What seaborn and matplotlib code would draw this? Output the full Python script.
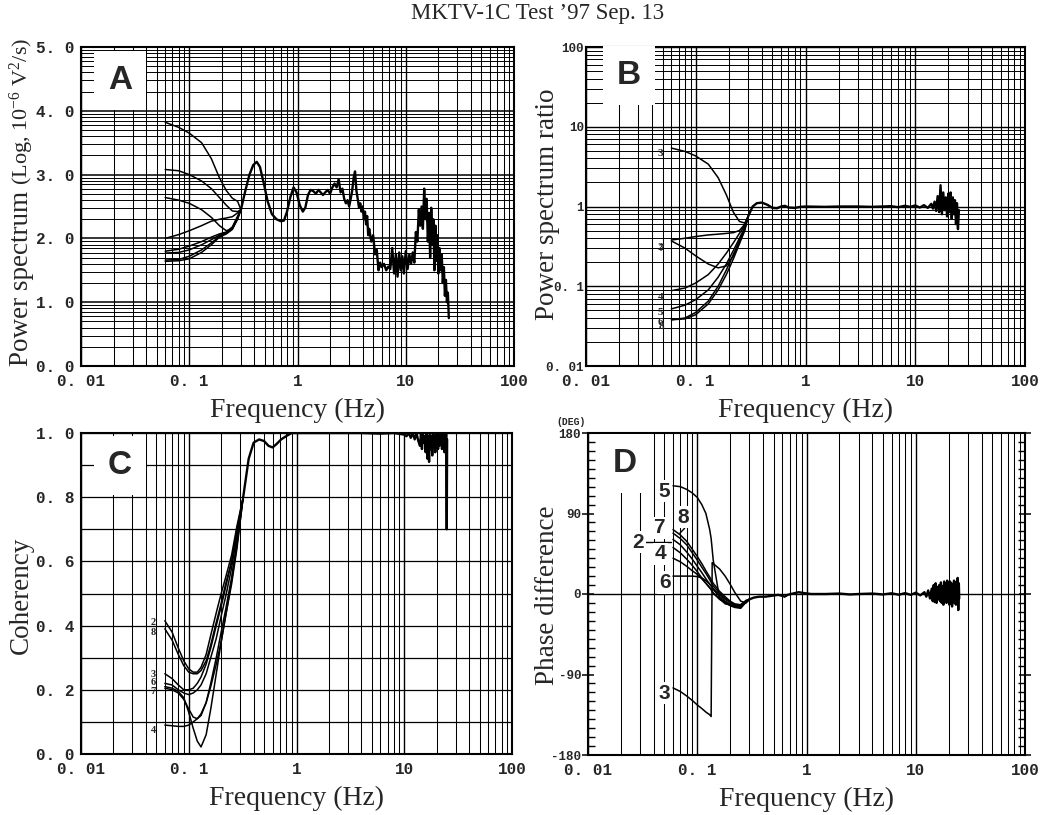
import numpy as np
import matplotlib
matplotlib.use("Agg")
import matplotlib.pyplot as plt
import matplotlib.transforms as mtransforms
import seaborn as sns
from matplotlib.ticker import LogLocator, NullFormatter, FixedLocator

sns.set_style("white")
plt.rcParams["font.family"] = ["Liberation Serif", "DejaVu Serif"]
plt.rcParams["mathtext.fontset"] = "custom"
plt.rcParams["mathtext.rm"] = "Liberation Serif"
plt.rcParams["mathtext.default"] = "regular"
plt.rcParams["ytick.left"] = True
plt.rcParams["ytick.minor.left"] = True

# ---------------- data ----------------
X_TICKS = [0.01, 0.1, 1, 10, 100]
X_TICK_LABELS = ["0. 01", "0. 1", "1", "10", "100"]

# Panel A: power spectra (log units)
A_LOW_F = [0.06, 0.08, 0.10, 0.13, 0.16, 0.19, 0.22, 0.25, 0.28]
A_CURVE_1 = [3.82, 3.74, 3.65, 3.50, 3.25, 2.95, 2.75, 2.63, 2.58]
A_CURVE_2 = [3.08, 3.06, 3.00, 2.90, 2.78, 2.64, 2.52, 2.43, 2.42]
A_CURVE_3 = [2.64, 2.60, 2.55, 2.45, 2.33, 2.20, 2.12, 2.15, 2.30]
A_CURVE_4 = [2.00, 2.06, 2.12, 2.20, 2.27, 2.30, 2.32, 2.34, 2.40]
A_CURVE_5 = [1.80, 1.83, 1.88, 1.95, 2.02, 2.07, 2.10, 2.18, 2.35]
A_CURVE_6 = [1.77, 1.78, 1.82, 1.90, 1.98, 2.05, 2.09, 2.16, 2.33]
A_CURVE_7 = [1.66, 1.67, 1.72, 1.82, 1.93, 2.03, 2.08, 2.15, 2.32]
A_CURVE_8 = [1.64, 1.65, 1.68, 1.78, 1.90, 2.02, 2.07, 2.14, 2.32]
A_TRUNK_F = [0.30, 0.33, 0.36, 0.39, 0.42, 0.45, 0.49, 0.53, 0.58, 0.64,
             0.70, 0.75, 0.80, 0.86, 0.92, 0.98, 1.05, 1.12, 1.18, 1.25,
             1.32, 1.40, 1.48, 1.56, 1.64, 1.72, 1.80, 1.90, 2.00, 2.10,
             2.20, 2.30, 2.40, 2.50, 2.60, 2.70, 2.80, 2.90, 3.00, 3.10,
             3.20, 3.30, 3.40, 3.50, 3.60, 3.70, 3.80, 3.90, 4.00, 4.10,
             4.20, 4.30, 4.40, 4.50, 4.60, 4.80, 5.00, 5.20, 5.40, 5.60,
             5.80, 6.00, 6.30, 6.60, 6.90, 7.20, 7.50, 7.80, 8.10, 8.40,
             8.70, 9.00, 9.30, 9.60, 10.0, 10.4, 10.8, 11.2, 11.6, 12.0,
             12.4, 12.8, 13.2, 13.6, 14.0, 14.4, 14.8, 15.2, 15.6, 16.0,
             16.4, 16.8, 17.2, 17.6, 18.0, 18.4, 18.8, 19.2, 19.6, 20.0,
             20.5, 21.0, 21.5, 22.0, 22.5, 23.0, 23.5, 24.0, 24.5, 25.0]
A_TRUNK_V = [2.45, 2.75, 3.00, 3.15, 3.20, 3.12, 2.85, 2.58, 2.38, 2.30,
             2.27, 2.28, 2.42, 2.65, 2.80, 2.72, 2.52, 2.42, 2.48, 2.68,
             2.76, 2.74, 2.70, 2.76, 2.72, 2.68, 2.72, 2.76, 2.70, 2.80,
             2.86, 2.80, 2.93, 2.72, 2.78, 2.62, 2.55, 2.60, 2.50, 2.62,
             2.75, 2.95, 3.05, 2.75, 2.62, 2.48, 2.55, 2.42, 2.50, 2.30,
             2.42, 2.22, 2.35, 2.05, 2.15, 1.95, 2.05, 1.75, 1.82, 1.50,
             1.62, 1.55, 1.60, 1.50, 1.56, 1.52, 1.85, 1.45, 1.75, 1.40,
             1.78, 1.50, 1.72, 1.45, 1.80, 1.52, 1.75, 1.60, 1.78, 1.62,
             2.10, 1.95, 2.45, 2.20, 2.50, 2.15, 2.78, 2.30, 2.62, 1.95,
             2.40, 1.70, 2.48, 1.90, 2.30, 1.50, 2.20, 1.65, 2.05, 1.45,
             1.85, 1.50, 1.75, 1.30, 1.55, 1.10, 1.35, 1.00, 1.15, 0.75]

# Panel B: power spectrum ratio
B_LOW_F = [0.06, 0.08, 0.10, 0.13, 0.16, 0.19, 0.22, 0.25, 0.28]
B_CURVE_3 = [5.4, 4.9, 4.3, 3.4, 2.3, 1.4, 0.85, 0.65, 0.62]
B_CURVE_2 = [0.38, 0.40, 0.42, 0.44, 0.45, 0.46, 0.47, 0.50, 0.60]
B_CURVE_7 = [0.37, 0.30, 0.24, 0.19, 0.17, 0.18, 0.24, 0.36, 0.55]
B_CURVE_4 = [0.088, 0.095, 0.11, 0.14, 0.19, 0.26, 0.35, 0.46, 0.58]
B_CURVE_5 = [0.052, 0.058, 0.068, 0.09, 0.13, 0.19, 0.28, 0.40, 0.55]
B_CURVE_6 = [0.038, 0.039, 0.044, 0.06, 0.09, 0.14, 0.22, 0.34, 0.50]
B_CURVE_8 = [0.038, 0.040, 0.047, 0.065, 0.10, 0.16, 0.25, 0.37, 0.52]
B_TRUNK_F = [0.30, 0.33, 0.36, 0.40, 0.45, 0.50, 0.55, 0.60, 0.65, 0.70,
             0.80, 0.90, 1.0, 1.5, 2.0, 3.0, 4.0, 5.0, 6.0, 7.0,
             8.0, 9.0, 10.0, 11.0, 12.0, 13.0, 14.0, 14.5, 15.0, 15.5,
             16.0, 16.5, 17.0, 17.5, 18.0, 18.5, 19.0, 19.5, 20.0, 20.5,
             21.0, 21.5, 22.0, 22.5, 23.0, 23.5, 24.0, 24.5, 25.0]
B_TRUNK_V = [0.75, 1.00, 1.10, 1.12, 1.05, 0.96, 0.95, 1.00, 1.02, 0.97,
             0.96, 0.99, 1.00, 0.99, 1.00, 1.00, 0.99, 1.00, 1.01, 0.98,
             1.02, 0.99, 1.03, 0.97, 1.04, 0.96, 1.08, 0.94, 1.15, 0.88,
             1.35, 0.85, 1.85, 0.80, 1.50, 0.90, 1.30, 0.75, 1.45, 0.85,
             1.50, 0.70, 1.30, 0.80, 1.20, 0.60, 1.10, 0.52, 0.90]

# Panel C: coherency
C_LOW_F = [0.06, 0.07, 0.08, 0.09, 0.10, 0.11, 0.12, 0.13, 0.145, 0.16,
           0.18, 0.20, 0.22, 0.25, 0.28]
C_CURVE_2 = [0.415, 0.38, 0.33, 0.29, 0.265, 0.255, 0.255, 0.27, 0.31, 0.37, 0.44, 0.50, 0.55, 0.62, 0.71]
C_CURVE_8 = [0.39, 0.355, 0.31, 0.275, 0.255, 0.25, 0.25, 0.26, 0.29, 0.34, 0.41, 0.47, 0.53, 0.60, 0.69]
C_CURVE_3 = [0.25, 0.235, 0.215, 0.20, 0.20, 0.205, 0.22, 0.24, 0.28, 0.33, 0.40, 0.46, 0.52, 0.60, 0.70]
C_CURVE_6 = [0.22, 0.215, 0.20, 0.19, 0.185, 0.19, 0.20, 0.215, 0.25, 0.30, 0.36, 0.43, 0.49, 0.58, 0.68]
C_CURVE_7 = [0.205, 0.20, 0.19, 0.17, 0.14, 0.115, 0.11, 0.12, 0.16, 0.22, 0.30, 0.38, 0.45, 0.55, 0.66]
C_CURVE_5 = [0.21, 0.205, 0.195, 0.175, 0.13, 0.08, 0.04, 0.022, 0.06, 0.14, 0.25, 0.35, 0.43, 0.54, 0.65]
C_CURVE_4 = [0.09, 0.088, 0.086, 0.086, 0.09, 0.10, 0.11, 0.125, 0.16, 0.21, 0.28, 0.35, 0.43, 0.53, 0.64]
C_TRUNK_F = [0.32, 0.36, 0.40, 0.45, 0.50, 0.55, 0.60, 0.65, 0.72, 0.80,
             0.90, 1.0, 2.0, 4.0, 6.0, 8.0, 10.0, 10.5, 11.0, 11.5,
             12.0, 12.5, 13.0, 13.5, 14.0, 14.3, 14.6, 14.9, 15.2, 15.5,
             15.8, 16.1, 16.4, 16.7, 17.0, 17.3, 17.6, 17.9, 18.2, 18.5,
             18.8, 19.1, 19.4, 19.7, 20.0, 20.3, 20.6, 20.9, 21.2, 21.5,
             21.8, 22.1, 22.4, 22.7, 23.0, 23.3, 23.6, 23.9, 24.2, 24.5,
             24.8, 25.0]
C_TRUNK_V = [0.80, 0.92, 0.97, 0.98, 0.975, 0.96, 0.955, 0.965, 0.98, 0.99,
             1.0, 1.0, 1.0, 1.0, 0.998, 1.0, 0.995, 0.99, 1.0, 0.985,
             1.0, 0.98, 1.0, 0.975, 0.96, 1.0, 0.95, 1.0, 0.97, 0.99,
             0.94, 1.0, 0.92, 0.99, 0.91, 1.0, 0.95, 0.99, 0.93, 1.0,
             0.96, 0.99, 0.94, 1.0, 0.96, 0.99, 0.95, 1.0, 0.96, 0.99,
             0.97, 1.0, 0.95, 0.99, 0.96, 1.0, 0.94, 0.99, 0.95, 1.0,
             0.70, 0.98]

# Panel D: phase difference (deg)
D_LOW_F = [0.06, 0.07, 0.08, 0.09, 0.10, 0.11, 0.12, 0.13, 0.134, 0.137,
           0.14, 0.16, 0.18, 0.20, 0.22, 0.25, 0.28]
D_CURVE_5 = [121, 120, 117, 113, 108, 100, 90, 72, 62, 50, 38, -5, -11, -12, -13, -12, -7]
D_CURVE_8 = [72, 66, 59, 50, 42, 34, 26, 19, 16, 14, 12, 3, -3, -8, -11, -12, -8]
D_CURVE_7 = [68, 62, 55, 46, 38, 30, 23, 16, 13, 11, 9, 1, -5, -9, -12, -13, -8]
D_CURVE_2 = [61, 55, 47, 39, 31, 24, 17, 11, 9, 7, 5, -3, -8, -11, -14, -15, -9]
D_CURVE_4 = [52, 46, 39, 32, 25, 18, 12, 7, 5, 3, 1, -6, -10, -13, -15, -16, -9]
D_CURVE_1 = [40, 36, 31, 26, 22, 17, 12, 7, 5, 3, 1, -5, -9, -12, -14, -14, -9]
D_CURVE_6 = [20, 20, 20, 20, 19.5, 18, 15, 11, 9, 8, 6, -1, -6, -9, -12, -13, -9]
D_CURVE_3 = [-105, -109, -114, -119, -124, -128, -132, -135, -137, 35, 34, 28, 20, 11, 2, -8, -10]
D_TRUNK_F = [0.30, 0.33, 0.37, 0.42, 0.48, 0.55, 0.60, 0.63, 0.67, 0.72,
             0.78, 0.85, 0.95, 1.1, 1.5, 2.0, 2.5, 3.0, 4.0, 5.0,
             6.0, 7.0, 8.0, 9.0, 10.0, 11.0, 12.0, 12.5, 13.0, 13.5,
             14.0, 14.3, 14.6, 14.9, 15.2, 15.5, 15.8, 16.1, 16.4, 16.7,
             17.0, 17.3, 17.6, 17.9, 18.2, 18.5, 18.8, 19.1, 19.4, 19.7,
             20.0, 20.3, 20.6, 20.9, 21.2, 21.5, 21.8, 22.1, 22.4, 22.7,
             23.0, 23.3, 23.6, 23.9, 24.2, 24.5, 24.8, 25.0]
D_TRUNK_V = [-6, -4, -3, -3, -2, -1, -2, -3, -1, 0,
             1, 2, 1, 0, 0, 0.5, -0.5, 0, 0.5, -0.5,
             0.8, -0.8, 1, -1, 1.5, -1.5, 2, -3, 4, -5,
             6, -8, 10, -9, 12, -10, 8, -6, 10, -8,
             13, -10, 9, -12, 14, -8, 12, -10, 15, -9,
             11, -12, 14, -8, 12, -14, 10, -9, 15, -10,
             13, -12, 11, -8, 18, -18, 12, -5]
D_Y_TICKS = [-180, -90, 0, 90, 180]
D_Y_MINOR = [v for v in range(-170, 180, 10) if v % 90 != 0]

# ---------------- figure ----------------
W, H = 1058, 815
fig = plt.figure(figsize=(W / 100, H / 100), dpi=100)


def axes_px(l, t, r, b):
    return fig.add_axes([l / W, 1 - b / H, (r - l) / W, (b - t) / H])


axA = axes_px(81, 47, 514, 366)
axB = axes_px(586, 47, 1025, 366)
axC = axes_px(81, 433, 512, 754)
axD = axes_px(588, 433, 1025, 755)

MONO = "Liberation Mono"
X_LABEL_SHIFT = [10, 8, 2, 5, 2]   # small print offsets of the tick labels (px)


def draw_curves(ax, low_f, curves, trunk_f, trunk_v):
    for vals in curves:
        sns.lineplot(x=list(low_f) + [trunk_f[0]], y=list(vals) + [trunk_v[0]], ax=ax,
                     color="black", linewidth=1.1, sort=False, estimator=None,
                     legend=False, zorder=3)
    sns.lineplot(x=trunk_f, y=trunk_v, ax=ax, color="black", linewidth=1.7,
                 sort=False, estimator=None, legend=False, zorder=3)


def style_common(ax, bottom_px, label_baseline_px):
    ax.set_xscale("log")
    ax.set_xlim(0.01, 100)
    ax.xaxis.set_major_locator(FixedLocator(X_TICKS))
    ax.xaxis.set_minor_locator(LogLocator(base=10, subs=np.arange(2, 10), numticks=30))
    ax.xaxis.set_minor_formatter(NullFormatter())
    ax.set_xticks(X_TICKS)
    ax.set_xticklabels(X_TICK_LABELS, fontfamily=MONO, fontweight="bold", fontsize=11.5)
    for lab, dx in zip(ax.get_xticklabels(), X_LABEL_SHIFT):
        lab.set_transform(lab.get_transform() +
                          mtransforms.ScaledTranslation(dx / 100, 0, fig.dpi_scale_trans))
    ax.grid(True, which="major", axis="x", color="black", linewidth=1.0)
    ax.grid(True, which="minor", axis="x", color="black", linewidth=0.75)
    ax.set_axisbelow(True)
    ax.tick_params(axis="x", which="both", length=0, pad=5.5)
    for s in ax.spines.values():
        s.set_color("black")
        s.set_linewidth(1.5)
        s.set_visible(True)
    ax.set_xlabel("Frequency (Hz)", fontsize=20)
    pos = ax.get_position()
    ax.xaxis.set_label_coords(0.5, -(label_baseline_px - bottom_px) / (pos.height * H))
    ax.xaxis.label.set_va("baseline")


def panel_letter(ax, letter, x, y):
    ax.text(x, y, letter, transform=ax.transAxes, fontsize=24, fontweight="bold",
            family="Liberation Sans", ha="center", va="center", zorder=6,
            bbox=dict(boxstyle="square,pad=0.42", fc="white", ec="none"))


# ---- Panel A
draw_curves(axA, A_LOW_F, [A_CURVE_1, A_CURVE_2, A_CURVE_3, A_CURVE_4, A_CURVE_5,
                           A_CURVE_6, A_CURVE_7, A_CURVE_8], A_TRUNK_F, A_TRUNK_V)
style_common(axA, 366, 417)
axA.set_ylim(0, 5)
axA.set_yticks([0, 1, 2, 3, 4, 5])
axA.set_yticklabels(["0. 0", "1. 0", "2. 0", "3. 0", "4. 0", "5. 0"],
                    fontfamily=MONO, fontweight="bold", fontsize=11.5)
axA.set_yticks([k + np.log10(m) for k in range(5) for m in range(2, 10)], minor=True)
axA.grid(True, which="major", axis="y", color="black", linewidth=1.1)
axA.grid(True, which="minor", axis="y", color="black", linewidth=0.7)
axA.tick_params(axis="y", which="both", length=0, pad=5)
axA.set_ylabel("")
panel_letter(axA, "A", 0.09, 0.895)

# ---- Panel B
draw_curves(axB, B_LOW_F, [B_CURVE_3, B_CURVE_2, B_CURVE_7, B_CURVE_4, B_CURVE_5,
                           B_CURVE_6, B_CURVE_8], B_TRUNK_F, B_TRUNK_V)
style_common(axB, 366, 417)
axB.set_yscale("log")
axB.set_ylim(0.01, 100)
axB.yaxis.set_major_locator(FixedLocator([0.01, 0.1, 1, 10, 100]))
axB.yaxis.set_minor_locator(LogLocator(base=10, subs=np.arange(2, 10), numticks=30))
axB.yaxis.set_minor_formatter(NullFormatter())
axB.set_yticks([0.01, 0.1, 1, 10, 100])
axB.set_yticklabels(["0. 01", "0. 1", "1", "10", "100"], fontfamily=MONO,
                    fontweight="bold", fontsize=9)
axB.grid(True, which="major", axis="y", color="black", linewidth=1.0)
axB.grid(True, which="minor", axis="y", color="black", linewidth=0.7)
axB.tick_params(axis="y", which="both", length=0, pad=1.5)
axB.set_ylabel("Power spectrum ratio", fontsize=19.5)
axB.yaxis.set_label_coords(-(586 - 548) / 439, 1 - (204 - 47) / 319)
axB.yaxis.label.set_va("center")
panel_letter(axB, "B", 0.097, 0.91)
for txt, f, v in [("3", 0.048, 4.6), ("2", 0.048, 0.31), ("7", 0.0485, 0.30),
                  ("4", 0.048, 0.073), ("5", 0.048, 0.047), ("6", 0.048, 0.035),
                  ("8", 0.0485, 0.031)]:
    axB.text(f, v, txt, fontsize=8, fontweight="bold", ha="center", va="center", zorder=5)

# ---- Panel C
draw_curves(axC, C_LOW_F, [C_CURVE_2, C_CURVE_8, C_CURVE_3, C_CURVE_6, C_CURVE_7,
                           C_CURVE_5, C_CURVE_4], C_TRUNK_F, C_TRUNK_V)
style_common(axC, 754, 805)
axC.set_ylim(0, 1.0)
axC.set_yticks([0, 0.2, 0.4, 0.6, 0.8, 1.0])
axC.set_yticklabels(["0. 0", "0. 2", "0. 4", "0. 6", "0. 8", "1. 0"],
                    fontfamily=MONO, fontweight="bold", fontsize=11.5)
axC.set_yticks([0.1, 0.3, 0.5, 0.7, 0.9], minor=True)
axC.grid(True, which="both", axis="y", color="black", linewidth=0.9)
axC.tick_params(axis="y", which="both", length=0, pad=5)
axC.set_ylabel("Coherency", fontsize=19.5)
axC.yaxis.set_label_coords(-(81 - 21) / 431, 1 - (595 - 433) / 321)
axC.yaxis.label.set_va("center")
panel_letter(axC, "C", 0.09, 0.9)
for txt, f, v in [("2", 0.047, 0.41), ("8", 0.047, 0.378), ("3", 0.047, 0.247),
                  ("6", 0.047, 0.223), ("7", 0.047, 0.196), ("4", 0.047, 0.072)]:
    axC.text(f, v, txt, fontsize=7.5, fontweight="bold", ha="center", va="center", zorder=5)

# ---- Panel D
draw_curves(axD, D_LOW_F, [D_CURVE_5, D_CURVE_8, D_CURVE_7, D_CURVE_2, D_CURVE_4,
                           D_CURVE_1, D_CURVE_6, D_CURVE_3], D_TRUNK_F, D_TRUNK_V)
style_common(axD, 755, 806)
axD.set_ylim(-180, 180)
axD.set_yticks(D_Y_TICKS)
axD.set_yticklabels(["-180", "-90", "0", "90", "180"], fontfamily=MONO,
                    fontweight="bold", fontsize=9)
axD.set_yticks(D_Y_MINOR, minor=True)
axD.axhline(0, color="black", linewidth=1.0, zorder=1)
axD.yaxis.set_tick_params(which="major", length=8, width=1.1, direction="inout",
                          left=True, right=True, pad=1, color="black")
axD.yaxis.set_tick_params(which="minor", length=5, width=1.0, direction="in",
                          left=True, right=True, color="black")
axD.set_ylabel("Phase difference", fontsize=19.5)
axD.yaxis.set_label_coords(-(588 - 547) / 437, 1 - (595 - 433) / 322)
axD.yaxis.label.set_va("center")
axD.text(-0.005, 1.035, "(DEG)", transform=axD.transAxes, fontsize=7,
         fontfamily=MONO, fontweight="bold", ha="right", va="center")
panel_letter(axD, "D", 0.085, 0.905)
for txt, f, v in [("5", 0.0496, 115), ("8", 0.074, 86), ("7", 0.0447, 74),
                  ("2", 0.0287, 58), ("4", 0.0465, 45), ("6", 0.0506, 13),
                  ("3", 0.0496, -111)]:
    axD.text(f, v, txt, fontsize=15, fontweight="bold", family="Liberation Sans",
             ha="center", va="center", zorder=6,
             bbox=dict(boxstyle="square,pad=0.08", fc="white", ec="none"))
axD.plot([0.0318, 0.0575], [58.5, 58.5], color="black", linewidth=1.0, zorder=4)
axD.plot([0.0767, 0.0693], [73.5, 68], color="black", linewidth=1.0, zorder=4)

# ---- title
fig.text(538 / W, 1 - 14 / H, "MKTV-1C Test \u201997 Sep. 13", ha="center",
         va="center", fontsize=16.5)

# ---- y label of panel A (two sizes)
t1 = fig.text(28 / W, 1 - 366 / H, "Power spectrum", rotation=90,
              rotation_mode="anchor", ha="left", va="baseline", fontsize=19.5)
fig.canvas.draw()
bb = t1.get_window_extent(fig.canvas.get_renderer())
fig.text(28 / W, (bb.y1 + 6) / H, "(Log, 10$^{-6}$ V$^{2}$/s)", rotation=90,
         rotation_mode="anchor", ha="left", va="baseline", fontsize=16)

fig.savefig("out.png", dpi=100, facecolor="white")
